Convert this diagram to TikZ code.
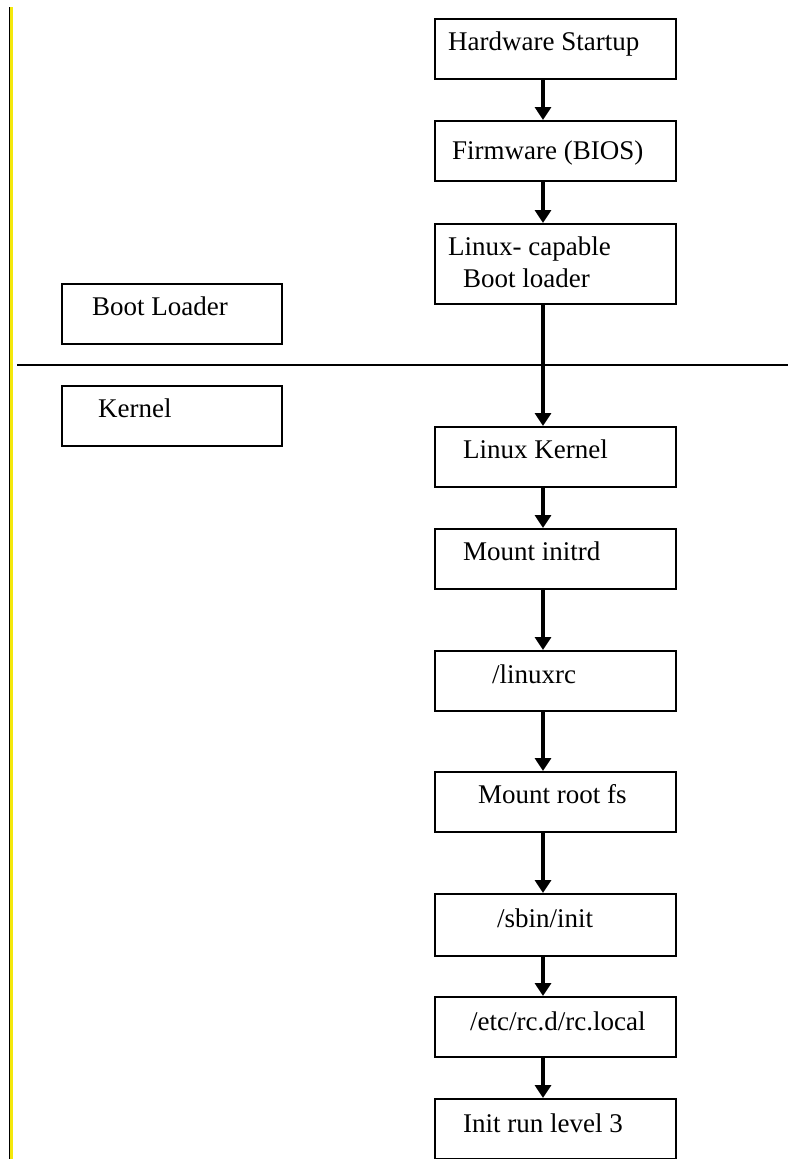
\documentclass[tikz,border=0pt]{standalone}
\usepackage{fontspec}
\setmainfont{Liberation Serif}
\usetikzlibrary{arrows.meta}
\begin{document}
\begin{tikzpicture}[x=1pt,y=-1pt,
  box/.style={draw=black,line width=1.6pt,minimum width=241pt,minimum height=60pt,inner sep=0pt,anchor=north west},
  lbox/.style={draw=black,line width=1.6pt,minimum width=220pt,minimum height=60pt,inner sep=0pt,anchor=north west},
  txt/.style={anchor=base west,inner sep=0pt,font=\fontsize{27pt}{29pt}\selectfont},
  flow/.style={line width=3.4pt,-{Triangle[width=16pt,length=13pt]}}]
\useasboundingbox (0,0) rectangle (788,1159);
\fill[white] (0,0) rectangle (788,1159);
% left margin bar
\draw[black,line width=1.5pt] (9.5,7) -- (9.5,1159);
\draw[yellow!95!black,line width=2.5pt] (11.5,7) -- (11.5,1159);
% divider
\coordinate (dl) at (17,365);
\coordinate (dr) at (788,365);
\draw[line width=1.8pt] (dl) -- (dr);
% left boxes
\node[lbox] (bl) at (61,283) {};
\node[txt] at (92,315) {Boot Loader};
\node[lbox] (kl) at (61,385) {};
\node[txt] at (98,417) {Kernel};
% right flow boxes
\node[box] (b1) at (434,18) {};
\node[txt] at (448,50) {Hardware Startup};
\node[box] (b2) at (434,120) {};
\node[txt] at (452,159) {Firmware (BIOS)};
\node[box,minimum height=80pt] (b3) at (434,223) {};
\node[txt] at (448,255) {Linux- capable};
\node[txt] at (463,287) {Boot loader};
\node[box] (b4) at (434,426) {};
\node[txt] at (463,458) {Linux Kernel};
\node[box] (b5) at (434,528) {};
\node[txt] at (463,560) {Mount initrd};
\node[box] (b6) at (434,650) {};
\node[txt] at (492,683) {/linuxrc};
\node[box] (b7) at (434,771) {};
\node[txt] at (478,803) {Mount root fs};
\node[box,minimum height=62pt] (b8) at (434,893) {};
\node[txt] at (497,927) {/sbin/init};
\node[box] (b9) at (434,996) {};
\node[txt] at (470,1030) {/etc/rc.d/rc.local};
\node[box] (b10) at (434,1098) {};
\node[txt] at (463,1132) {Init run level 3};
% arrows
\coordinate (ax) at (543,0);
\foreach \a/\b in {b1/b2,b2/b3,b3/b4,b4/b5,b5/b6,b6/b7,b7/b8,b8/b9,b9/b10}
  \draw[flow] (\a.south -| ax) -- (\b.north -| ax);
\end{tikzpicture}
\end{document}
